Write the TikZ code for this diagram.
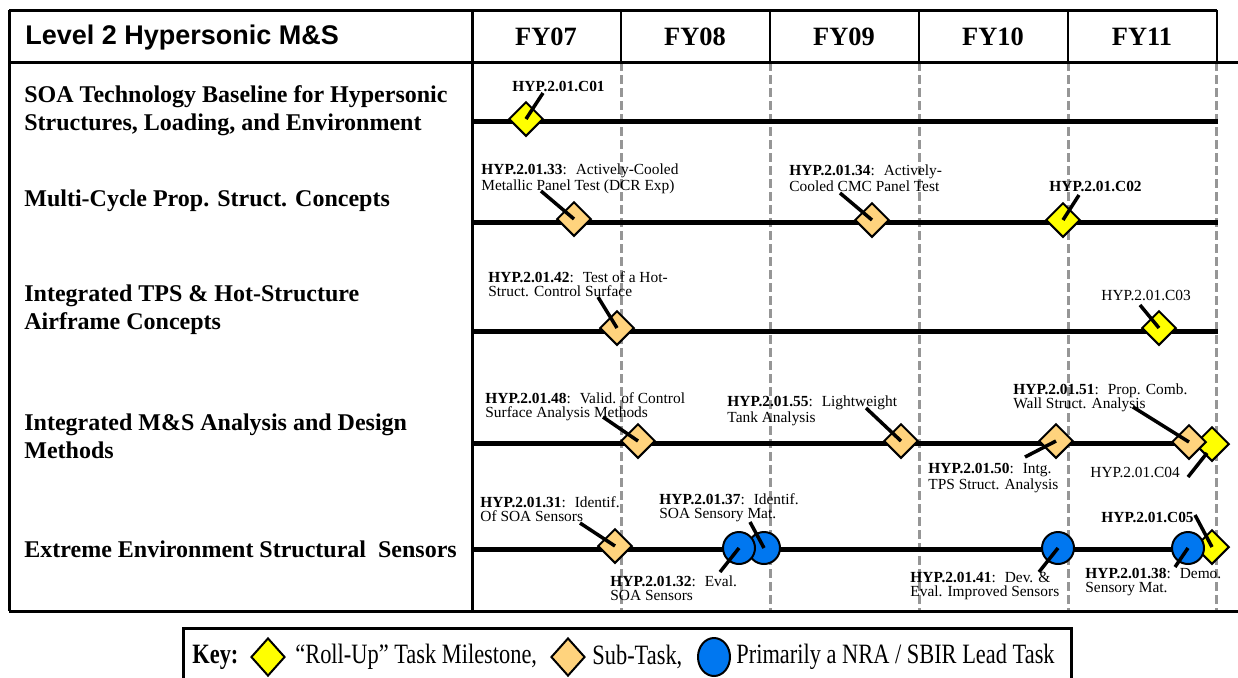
\documentclass[tikz,border=0pt]{standalone}
\usepackage{fontspec}
\setmainfont{Liberation Serif}
\newfontfamily\headfont{Liberation Sans}
\newfontfamily\keyfont{Liberation Serif}[FakeStretch=0.8]
\usepackage{tikz}
\usepackage{xcolor}
\usetikzlibrary{shapes.geometric}

\definecolor{rollup}{RGB}{255,255,0}
\definecolor{subtask}{RGB}{255,211,125}
\definecolor{nratask}{RGB}{0,119,240}
\definecolor{gridgray}{RGB}{150,150,150}

\tikzset{
	milestone/.style={diamond,draw=black,line width=1pt,fill=rollup,inner sep=0pt,minimum size=17.25pt},
	submark/.style={diamond,draw=black,line width=1pt,fill=subtask,inner sep=0pt,minimum size=17.25pt},
	leadmark/.style={circle,draw=black,line width=1pt,fill=nratask,inner sep=0pt,minimum size=16pt},
	mslabel/.style={anchor=north west,inner sep=0pt,align=left,font=\fontsize{7.7}{7}\selectfont},
	rowlabel/.style={anchor=west,inner sep=0pt,align=left,font=\fontsize{12}{14}\selectfont\bfseries},
	yearlabel/.style={font=\fontsize{13.2}{15}\selectfont\bfseries},
	keytext/.style={anchor=west,inner sep=0pt,font=\keyfont\fontsize{14}{16}\selectfont},
	frame/.style={line width=1.5pt},
	track/.style={line width=2.5pt},
	leader/.style={line width=1.75pt},
	yearline/.style={gridgray,line width=1.5pt,dash pattern=on 4.5pt off 2pt},
}

\begin{document}
\begin{tikzpicture}[x=0.5pt,y=-0.5pt]
	\useasboundingbox (0,0) rectangle (1238,677);
	
	% Draw grid and frame
	\foreach \x in {621,770,919,1068,1216}
		\draw[yearline] (\x,62) -- (\x,611);
	\foreach \x in {621,770,919,1068,1217}
		\draw[line width=1pt] (\x,10) -- (\x,62);
	\draw[frame] (9,10) -- (1217,10);
	\draw[frame] (9,10) -- (9,611);
	\draw[frame] (472,10) -- (472,611);
	\draw[frame] (9,62) -- (1238,62);
	\draw[frame] (9,611) -- (1238,611);
	
	% Draw header
	\node[anchor=west,inner sep=0pt,font=\headfont\bfseries\fontsize{13.5}{16}\selectfont] (title) at (25,38) {Level 2 Hypersonic M\&S};
	\foreach \yr/\x in {07/546,08/695,09/844,10/993,11/1142}
		\node[yearlabel] (fy\yr) at (\x,37) {FY\yr};
	
	% Draw rows
	\node[rowlabel] (soa) at (24,111) {SOA Technology Baseline for Hypersonic\\Structures, Loading, and Environment};
	\node[rowlabel] (mcp) at (24,201) {Multi-Cycle Prop. Struct. Concepts};
	\node[rowlabel] (tps) at (24,310) {Integrated TPS \& Hot-Structure\\Airframe Concepts};
	\node[rowlabel] (msa) at (24,436) {Integrated M\&S Analysis and Design\\Methods};
	\node[rowlabel] (ees) at (24,549) {Extreme Environment Structural~ Sensors};
	\foreach \y in {121,222,331,443,549}
		\draw[track] (472,\y) -- (1218,\y);
	
	% Draw milestones and tasks
	\node[milestone] (c01) at (526,119) {};
	\node[submark] (m33) at (574,219) {};
	\node[submark] (m34) at (872,220) {};
	\node[milestone] (c02) at (1063,220) {};
	\node[submark] (m42) at (617,328) {};
	\node[milestone] (c03) at (1159,328) {};
	\node[submark] (m48) at (638,441) {};
	\node[submark] (m55) at (901,441) {};
	\node[submark] (m50) at (1056,441) {};
	\node[milestone] (c04) at (1212,444) {};
	\node[submark] (m51) at (1189,442) {};
	\node[submark] (m31) at (615,546) {};
	\node[leadmark] (m37) at (764,548) {};
	\node[leadmark] (m32) at (739,548) {};
	\node[leadmark] (m41) at (1058,548) {};
	\node[milestone] (c05) at (1212,547) {};
	\node[leadmark] (m38) at (1188,548) {};
	
	% Draw task labels
	\node[mslabel] (c01txt) at (512,81) {\textbf{HYP.2.01.C01}};
	\node[mslabel] (t33) at (481,163) {\textbf{HYP.2.01.33}:~ Actively-Cooled\\Metallic Panel Test (DCR Exp)};
	\node[mslabel] (t34) at (789,164) {\textbf{HYP.2.01.34}:~ Actively-\\Cooled CMC Panel Test};
	\node[mslabel] (c02txt) at (1049,181) {\textbf{HYP.2.01.C02}};
	\node[mslabel] (t42) at (488,271) {\textbf{HYP.2.01.42}:~ Test of a Hot-\\Struct. Control Surface};
	\node[mslabel] (c03txt) at (1101,290) {HYP.2.01.C03};
	\node[mslabel] (t48) at (485,392) {\textbf{HYP.2.01.48}:~ Valid. of Control\\Surface Analysis Methods};
	\node[mslabel] (t55) at (727,395) {\textbf{HYP.2.01.55}:~ Lightweight\\Tank Analysis};
	\node[mslabel] (t51) at (1013,383) {\textbf{HYP.2.01.51}:~ Prop. Comb.\\Wall Struct. Analysis};
	\node[mslabel] (t50) at (928,463) {\textbf{HYP.2.01.50}:~ Intg.\\TPS Struct. Analysis};
	\node[mslabel] (c04txt) at (1090,467) {HYP.2.01.C04};
	\node[mslabel] (t31) at (480,496) {\textbf{HYP.2.01.31}:~ Identif.\\Of SOA Sensors};
	\node[mslabel] (t37) at (659,493) {\textbf{HYP.2.01.37}:~ Identif.\\SOA Sensory Mat.};
	\node[mslabel] (t32) at (610,575) {\textbf{HYP.2.01.32}:~ Eval.\\SOA Sensors};
	\node[mslabel] (t41) at (910,572) {\textbf{HYP.2.01.41}:~ Dev. \&\\Eval. Improved Sensors};
	\node[mslabel] (c05txt) at (1101,512) {\textbf{HYP.2.01.C05}};
	\node[mslabel] (t38) at (1085,568) {\textbf{HYP.2.01.38}:~ Demo.\\Sensory Mat.};
	
	% Draw leaders, label to marker
	\draw[leader] ([shift={(31,12)}]c01txt.north west) -- (c01.center);
	\draw[leader] ([shift={(60,28)}]t33.north west) -- (m33.center);
	\draw[leader] ([shift={(51,29)}]t34.north west) -- (m34.center);
	\draw[leader] ([shift={(30,14)}]c02txt.north west) -- (c02.center);
	\draw[leader] ([shift={(110,26)}]t42.north west) -- (m42.center);
	\draw[leader] ([shift={(39,15)}]c03txt.north west) -- (c03.center);
	\draw[leader] ([shift={(118,25)}]t48.north west) -- (m48.center);
	\draw[leader] ([shift={(139,13)}]t55.north west) -- (m55.center);
	\draw[leader] ([shift={(120,24)}]t51.north west) -- (m51.center);
	\draw[leader] ([shift={(97,-6)}]t50.north west) -- (m50.center);
	\draw[leader] ([shift={(98,10)}]c04txt.north west) -- ([shift={(-5,9)}]c04.center);
	\draw[leader] ([shift={(100,27)}]t31.north west) -- (m31.center);
	\draw[leader] ([shift={(91,29)}]t37.north west) -- (m37.center);
	\draw[leader] ([shift={(110,-3)}]t32.north west) -- (m32.center);
	\draw[leader] ([shift={(129,0)}]t41.north west) -- (m41.center);
	\draw[leader] ([shift={(94,3)}]c05txt.north west) -- (c05.center);
	\draw[leader] ([shift={(90,-1)}]t38.north west) -- (m38.center);
	
	% Draw key
	\draw[frame] (183,680) -- (183,628) -- (1071,628) -- (1071,680);
	\node[keytext] (keyhd) at (192,657) {\textbf{Key:}};
	\node[milestone,minimum width=17pt,minimum height=19pt] (keyroll) at (268,657) {};
	\node[keytext] (keyrolltxt) at (295,657) {“Roll-Up” Task Milestone,};
	\node[submark,minimum width=17pt,minimum height=19pt] (keysub) at (568,657) {};
	\node[keytext] (keysubtxt) at (592,657) {Sub-Task,};
	\node[ellipse,draw=black,line width=1pt,fill=nratask,inner sep=0pt,minimum width=16pt,minimum height=19pt] (keynra) at (714,657) {};
	\node[keytext] (keynratxt) at (736,657) {Primarily a NRA / SBIR Lead Task};
	
\end{tikzpicture}
\end{document}
